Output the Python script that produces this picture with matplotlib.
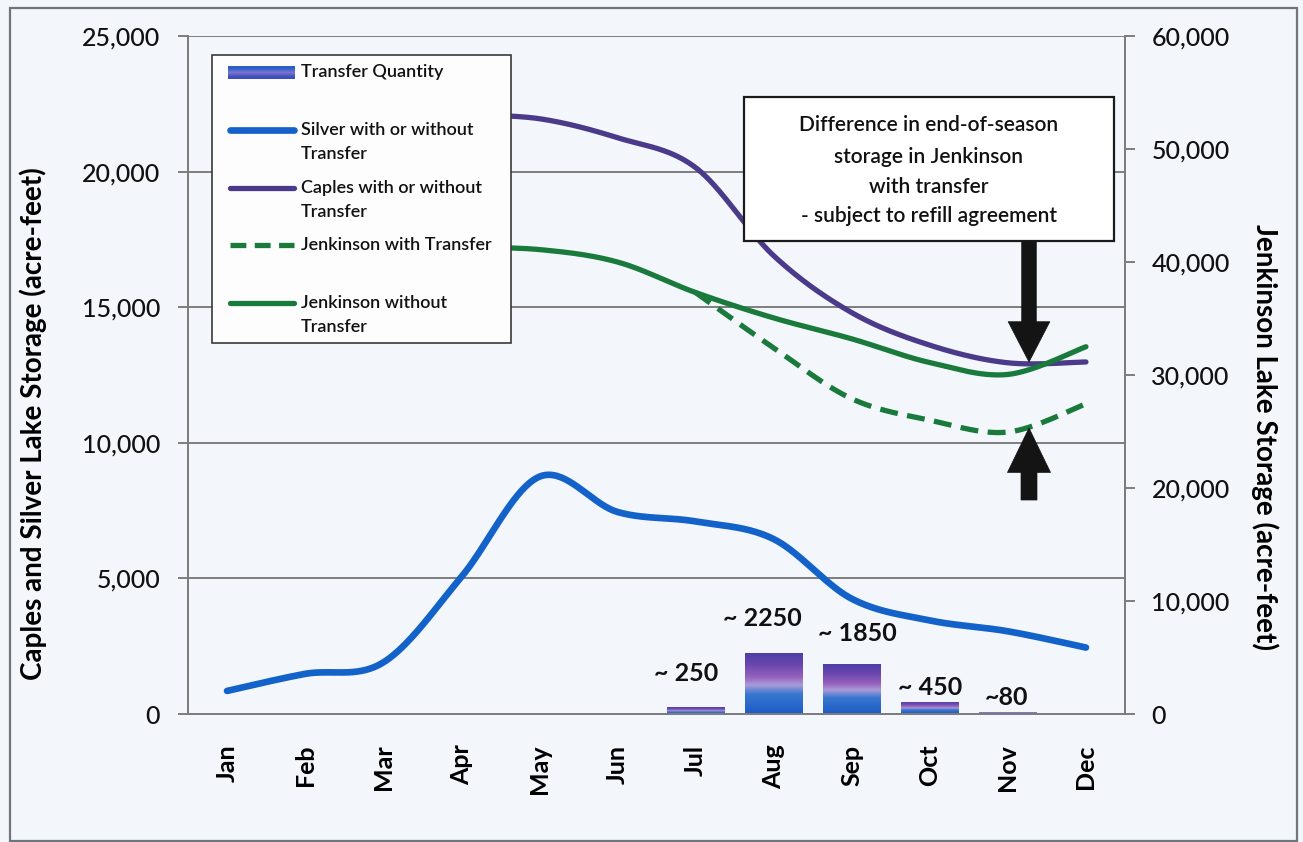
import numpy as np
import matplotlib
matplotlib.use("Agg")
import matplotlib.pyplot as plt
from matplotlib.patches import Rectangle, FancyArrowPatch
from matplotlib.colors import LinearSegmentedColormap
from matplotlib.lines import Line2D
from matplotlib.ticker import FuncFormatter

plt.rcParams['font.family'] = ['Lato', 'DejaVu Sans']

# ---------------- data ----------------
months = ['Jan', 'Feb', 'Mar', 'Apr', 'May', 'Jun', 'Jul', 'Aug', 'Sep', 'Oct', 'Nov', 'Dec']
silver = [850, 1480, 1900, 5050, 8750, 7450, 7100, 6450, 4250, 3450, 3050, 2450]
caples = [np.nan, np.nan, np.nan, 22100, 21950, 21250, 20150, 16900, 14800, 13600, 12950, 12980]
jenk_without = [np.nan, np.nan, np.nan, 41300, 41100, 40000, 37300, 35050, 33200, 31100, 30050, 32500]
jenk_with = [np.nan, np.nan, np.nan, 41300, 41100, 40000, 37300, 32400, 27900, 26000, 24950, 27450]
transfer = [0, 0, 0, 0, 0, 0, 250, 2250, 1850, 450, 80, 0]
transfer_labels = ['', '', '', '', '', '', '~ 250', '~ 2250', '~ 1850', '~ 450', '~80', '']
left_ticks = [0, 5000, 10000, 15000, 20000, 25000]
right_ticks = [0, 10000, 20000, 30000, 40000, 50000, 60000]
transfer_start = 6  # month index where the two Jenkinson series part

# ---------------- style ----------------
W, H = 1303, 842
BG = '#f3f7fb'
C_SILVER = '#1262c9'
C_CAPLES = '#4b3a8a'
C_JENK = '#197a3c'
C_GRID = '#7d7d7d'


def fx(x):
    return x / W


def fy(y):
    return 1 - y / H


def smooth(xs, ys, n=40):
    xs = np.asarray(xs, float)
    ys = np.asarray(ys, float)
    m = np.isfinite(ys)
    p = np.column_stack([xs[m], ys[m]])
    out = []
    t = np.linspace(0, 1, n)[:, None]
    for i in range(len(p) - 1):
        p0 = p[i - 1] if i > 0 else p[i]
        p1, p2 = p[i], p[i + 1]
        p3 = p[i + 2] if i + 2 < len(p) else p[i + 1]
        c1 = p1 + (p2 - p0) / 6
        c2 = p2 - (p3 - p1) / 6
        seg = (1 - t) ** 3 * p1 + 3 * (1 - t) ** 2 * t * c1 + 3 * (1 - t) * t ** 2 * c2 + t ** 3 * p2
        out.append(seg if i == 0 else seg[1:])
    s = np.vstack(out)
    return s[:, 0], s[:, 1]


fig = plt.figure(figsize=(W / 100, H / 100), dpi=100, facecolor=BG)

# outer frame
fig.patches.append(Rectangle((fx(10), fy(841)), fx(1297) - fx(10), fy(8) - fy(841),
                             transform=fig.transFigure, fill=False, ec='#6d757d', lw=1.6, zorder=0))

ax = fig.add_axes([fx(188), fy(714), fx(1125) - fx(188), fy(36) - fy(714)])
ax.set_facecolor('none')
ax2 = ax.twinx()

x = np.arange(len(months))
ax.set_xlim(-0.5, len(months) - 0.5)
ax.set_ylim(0, 25000)
ax2.set_ylim(0, 60000)

# grid
ax.set_yticks(left_ticks)
ax.yaxis.grid(True, color=C_GRID, lw=1.4, zorder=0)
ax.set_axisbelow(True)
ax2.set_yticks(right_ticks)

fmt = FuncFormatter(lambda v, p: f'{int(v):,}')
ax.yaxis.set_major_formatter(fmt)
ax2.yaxis.set_major_formatter(fmt)

for a in (ax, ax2):
    a.spines['top'].set_visible(False)
    for s in ('left', 'right', 'bottom'):
        a.spines[s].set_color(C_GRID)
        a.spines[s].set_linewidth(1.4)

ax.tick_params(axis='y', length=7, width=1.4, color=C_GRID, pad=13, labelsize=18, labelcolor='#111111')
ax2.tick_params(axis='y', length=7, width=1.4, color=C_GRID, pad=12, labelsize=18, labelcolor='#111111')
for lab in ax.get_yticklabels() + ax2.get_yticklabels():
    lab.set_fontweight('medium')
ax.set_xticks(x)
ax.set_xticklabels(months, rotation=90, fontsize=18, fontweight='bold')
ax.tick_params(axis='x', length=0, pad=22)

ax.set_ylabel('Caples and Silver Lake Storage (acre-feet)', fontsize=20, fontweight='bold')
ax.yaxis.set_label_coords((47 - 188) / 937, (714 - 424) / 678)
ax2.set_ylabel('Jenkinson Lake Storage (acre-feet)', fontsize=20, fontweight='bold', rotation=270,
               va='center')
ax2.yaxis.set_label_coords((1265 - 188) / 937, (714 - 437) / 678)

# ---------------- bars with gradient ----------------
cmap = LinearSegmentedColormap.from_list('bar', [
    (0.0, '#1c5bc6'), (0.32, '#3977cf'), (0.47, '#a99bd8'),
    (0.6, '#9561bd'), (0.8, '#6946ad'), (1.0, '#4b3ea6')])
grad = np.linspace(0, 1, 256)[:, None]
bars = ax.bar(x, transfer, width=0.73, color='none', edgecolor='none', zorder=2)
for b, v in zip(bars, transfer):
    if v <= 0:
        continue
    x0, y0 = b.get_x(), b.get_y()
    im = ax.imshow(grad, cmap=cmap, origin='lower', aspect='auto',
                   extent=[x0, x0 + b.get_width(), y0, y0 + b.get_height()], zorder=2,
                   interpolation='bilinear')
    im.set_clip_path(b)
ax.set_xlim(-0.5, len(months) - 0.5)
ax.set_ylim(0, 25000)

label_offsets = {6: (-7, 24), 7: (-8, 25), 8: (4, 22), 9: (0, 10), 10: (-1, 10)}
for i, (v, lab) in enumerate(zip(transfer, transfer_labels)):
    if lab:
        dx, dy = label_offsets.get(i, (0, 10))
        ax.annotate(lab, (i, v), xytext=(dx, dy), textcoords='offset points',
                    ha='center', va='center', fontsize=18, fontweight='bold', color='#111111', zorder=5)

# ---------------- lines ----------------
sx, sy = smooth(x, silver)
ax.plot(sx, sy, color=C_SILVER, lw=4.8, solid_capstyle='round', zorder=3)
cx, cy = smooth(x, caples)
ax.plot(cx, cy, color=C_CAPLES, lw=3.8, solid_capstyle='round', zorder=3)
# with-transfer equals without-transfer before July: the solid line covers that part
jx, jy = smooth(x[transfer_start:], jenk_with[transfer_start:])
ax2.plot(jx, jy, color=C_JENK, lw=3.8, ls=(0, (3.4, 1.8)), zorder=3)
kx, ky = smooth(x, jenk_without)
ax2.plot(kx, ky, color=C_JENK, lw=3.8, solid_capstyle='round', zorder=4)

# ---------------- legend (drawn box) ----------------
fig.patches.append(Rectangle((fx(212), fy(343)), fx(511) - fx(212), fy(55) - fy(343),
                             transform=fig.transFigure, fc='#fdfdfd', ec='#3a3a3a', lw=1.2, zorder=5))
leg_grad = fig.add_axes([fx(228), fy(79), fx(295) - fx(228), fy(66) - fy(79)], zorder=6)
leg_grad.imshow(np.array([[0.0], [0.5], [1.0]]), cmap=LinearSegmentedColormap.from_list(
    'lg', ['#2a5fc8', '#7d74d2', '#3d4fb8']), aspect='auto', interpolation='bilinear')
leg_grad.axis('off')

handles = [
    (130, dict(color=C_SILVER, lw=4.8, solid_capstyle='round')),
    (188, dict(color=C_CAPLES, lw=3.8, solid_capstyle='round')),
    (245, dict(color=C_JENK, lw=3.8, ls=(0, (3.0, 1.6)))),
    (303, dict(color=C_JENK, lw=3.8, solid_capstyle='round')),
]
for yy, kw in handles:
    fig.lines.append(Line2D([fx(230), fx(294)], [fy(yy), fy(yy)], transform=fig.transFigure,
                            zorder=6, **kw))

leg_text = [
    (72, 'Transfer Quantity'),
    (130, 'Silver with or without'), (154, 'Transfer'),
    (188, 'Caples with or without'), (212, 'Transfer'),
    (245, 'Jenkinson with Transfer'),
    (303, 'Jenkinson without'), (327, 'Transfer'),
]
for yy, s in leg_text:
    fig.text(fx(301), fy(yy), s, fontsize=13, fontweight='semibold', ha='left', va='center',
             color='#111111', zorder=7)

# ---------------- callout ----------------
fig.patches.append(Rectangle((fx(744), fy(241)), fx(1114) - fx(744), fy(97) - fy(241),
                             transform=fig.transFigure, fc='#ffffff', ec='#1a1a1a', lw=1.6, zorder=5))
call_lines = [(125, 'Difference in end-of-season'), (157, 'storage in Jenkinson'),
              (187, 'with transfer'), (216, '- subject to refill agreement')]
for yy, s in call_lines:
    fig.text(fx(929), fy(yy), s, fontsize=15, fontweight='semibold', ha='center', va='center',
             color='#111111', zorder=7)

fig.patches.append(FancyArrowPatch((fx(1029), fy(242)), (fx(1029), fy(362)),
                                   transform=fig.transFigure,
                                   arrowstyle='simple,head_length=2.9,head_width=3.0,tail_width=1.05',
                                   mutation_scale=10, fc='#141414', ec='#141414', lw=0.5,
                                   shrinkA=0, shrinkB=0, zorder=6))
fig.patches.append(FancyArrowPatch((fx(1029), fy(500)), (fx(1029), fy(428)),
                                   transform=fig.transFigure,
                                   arrowstyle='simple,head_length=3.2,head_width=3.1,tail_width=1.15',
                                   mutation_scale=10, fc='#141414', ec='#141414', lw=0.5,
                                   shrinkA=0, shrinkB=0, zorder=6))

fig.savefig('out.png', dpi=100, facecolor=BG)
